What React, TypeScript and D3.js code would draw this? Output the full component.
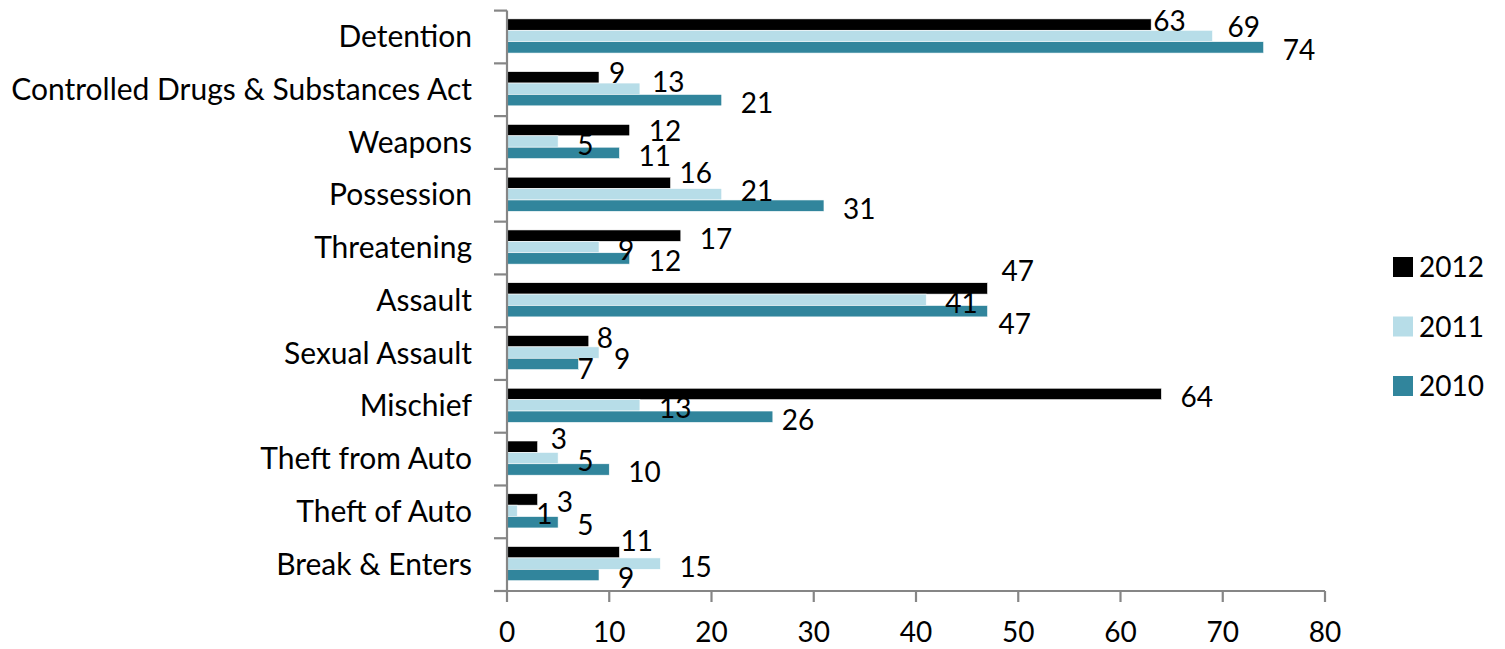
import * as d3 from 'd3';

const categories = [
  'Detention',
  'Controlled Drugs & Substances Act',
  'Weapons',
  'Possession',
  'Threatening',
  'Assault',
  'Sexual Assault',
  'Mischief',
  'Theft from Auto',
  'Theft of Auto',
  'Break & Enters',
];

const values2012 = [63, 9, 12, 16, 17, 47, 8, 64, 3, 3, 11];
const values2011 = [69, 13, 5, 21, 9, 41, 9, 13, 5, 1, 15];
const values2010 = [74, 21, 11, 31, 12, 47, 7, 26, 10, 5, 9];

const xTicks = [0, 10, 20, 30, 40, 50, 60, 70, 80];

const seriesNames = ['2012', '2011', '2010'];
const seriesColors = ['#000000', '#b7dde8', '#31859c'];
const seriesValues = [values2012, values2011, values2010];

// Excel shuffled some labels to avoid overlap; these nudge them off the default spot.
const labelNudges: Record<string, [number, number]> = {
  'Detention|0': [-17, -7],
  'Detention|1': [-4, -12],
  'Controlled Drugs & Substances Act|0': [-9, -7],
  'Controlled Drugs & Substances Act|1': [-7, -10],
  'Weapons|0': [0, -2],
  'Possession|0': [-10, -13],
  'Possession|1': [0, -6],
  'Assault|0': [-5, -20],
  'Assault|2': [-8, 10],
  'Sexual Assault|0': [-11, -6],
  'Sexual Assault|1': [-4, 3],
  'Sexual Assault|2': [-20, 2],
  'Mischief|2': [-10, 0],
  'Theft from Auto|0': [-6, -11],
  'Break & Enters|0': [-18, -14],
};

const WIDTH = 1505;
const HEIGHT = 649;
const FONT = 'Lato, "Open Sans", sans-serif';
const FONT_SIZE = 28;
const CAT_FONT_SIZE = 30;
const AXIS_GREY = '#868686';

export default function App() {
  const plot = { left: 507, right: 1325, top: 10.6, bottom: 591 };

  const xScale = d3.scaleLinear().domain([0, 80]).range([plot.left, plot.right]);
  const yScale = d3.scaleBand<string>().domain(categories).range([plot.top, plot.bottom]);
  const band = yScale.bandwidth();
  const groupHeight = band * 0.648;
  const inner = d3
    .scaleBand<string>()
    .domain(seriesNames)
    .range([0, groupHeight]);

  const legendY = d3.scalePoint<string>().domain(seriesNames).range([267, 386]);

  return (
    <svg
      width={WIDTH}
      height={HEIGHT}
      style={{ position: 'absolute', left: 0, top: 0, background: '#fff' }}
      fontFamily={FONT}
    >
      {/* bars */}
      {categories.map((cat, ci) => {
        const groupTop = (yScale(cat) ?? 0) + (band - groupHeight) / 2 - 1;
        return (
          <g key={cat}>
            {seriesNames.map((name, si) => {
              const v = seriesValues[si][ci];
              const y = groupTop + (inner(name) ?? 0);
              return (
                <rect
                  key={name}
                  x={xScale(0)}
                  y={y}
                  width={xScale(v) - xScale(0)}
                  height={inner.bandwidth()}
                  fill={seriesColors[si]}
                  stroke="#ffffff"
                  strokeWidth={0.6}
                />
              );
            })}
          </g>
        );
      })}

      {/* axes */}
      <line x1={plot.left} x2={plot.left} y1={plot.top} y2={plot.bottom} stroke={AXIS_GREY} strokeWidth={2.2} />
      <line x1={plot.left} x2={plot.right} y1={plot.bottom} y2={plot.bottom} stroke={AXIS_GREY} strokeWidth={2.2} />
      {[...categories.map((c) => yScale(c) ?? 0), plot.bottom].map((y, i) => (
        <line key={`yt-${i}`} x1={plot.left - 13} x2={plot.left} y1={y} y2={y} stroke={AXIS_GREY} strokeWidth={2.2} />
      ))}
      {xTicks.map((t) => (
        <g key={`xt-${t}`}>
          <line x1={xScale(t)} x2={xScale(t)} y1={plot.bottom} y2={plot.bottom + 11} stroke={AXIS_GREY} strokeWidth={2.2} />
          <text x={xScale(t)} y={642} textAnchor="middle" fontSize={FONT_SIZE} fill="#000">
            {t}
          </text>
        </g>
      ))}

      {/* category labels */}
      {categories.map((cat) => (
        <text
          key={`cl-${cat}`}
          x={472}
          y={(yScale(cat) ?? 0) + band / 2 + 10}
          textAnchor="end"
          fontSize={CAT_FONT_SIZE}
          fill="#000"
        >
          {cat}
        </text>
      ))}

      {/* data labels */}
      {categories.map((cat, ci) => {
        const groupTop = (yScale(cat) ?? 0) + (band - groupHeight) / 2 - 1;
        return seriesNames.map((name, si) => {
          const v = seriesValues[si][ci];
          const cy = groupTop + (inner(name) ?? 0) + inner.bandwidth() / 2;
          const [dx, dy] = labelNudges[`${cat}|${si}`] ?? [0, 0];
          return (
            <text
              key={`dl-${cat}-${name}`}
              x={xScale(v) + 19 + dx}
              y={cy + 3 + dy + 10}
              fontSize={FONT_SIZE}
              fill="#000"
            >
              {v}
            </text>
          );
        });
      })}

      {/* legend */}
      {seriesNames.map((name, si) => {
        const cy = legendY(name) ?? 0;
        return (
          <g key={`lg-${name}`}>
            <rect x={1393} y={cy - 10} width={20} height={20} fill={seriesColors[si]} />
            <text x={1419} y={cy + 10} fontSize={FONT_SIZE} fill="#000">
              {name}
            </text>
          </g>
        );
      })}
    </svg>
  );
}
